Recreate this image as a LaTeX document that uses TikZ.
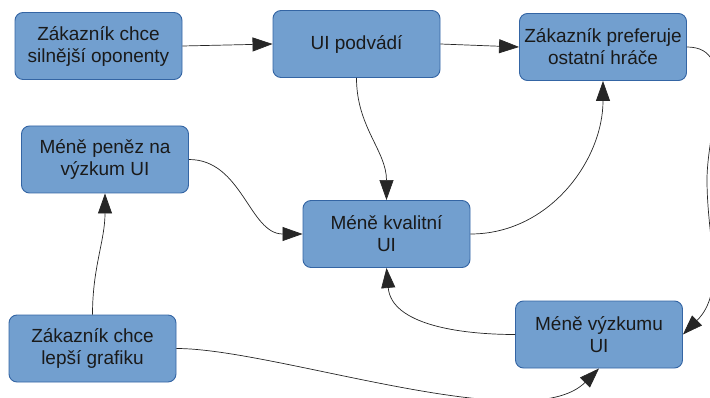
\documentclass[tikz,border=0pt]{standalone}
\usepackage{fontspec}
\setmainfont{Liberation Sans}
\usetikzlibrary{arrows.meta}
\definecolor{boxfill}{HTML}{729FCF}
\definecolor{boxline}{HTML}{3465A4}
\definecolor{txt}{HTML}{1A1A1A}
\begin{document}
\begin{tikzpicture}[x=1pt,y=1pt,
  box/.style={draw=boxline, fill=boxfill, line width=0.9pt, rounded corners=8pt,
    minimum width=167pt, minimum height=67pt, align=center, inner sep=0pt,
    text=txt, font=\fontsize{19}{22}\selectfont},
  conn/.style={draw=black!85, line width=0.7pt, -{Triangle[length=20pt,width=14pt]}}]
\useasboundingbox (0,0) rectangle (710,397);
\node[box] (n1) at (98.5,351) {Zákazník chce\\silnější oponenty};
\node[box] (n2) at (356.5,353) {UI podvádí};
\node[box] (n3) at (603,350) {Zákazník preferuje\\ostatní hráče};
\node[box] (n4) at (105,237.5) {Méně peněz na\\výzkum UI};
\node[box] (n5) at (386.5,163) {Méně kvalitní\\UI};
\node[box] (n6) at (599,62.5) {Méně výzkumu\\UI};
\node[box] (n7) at (92.5,48.5) {Zákazník chce\\lepší grafiku};
\coordinate (w1) at (707,217);
\draw[conn] (n1.east) -- (n2.west);
\draw[conn] (n2.east) -- (n3.west);
\draw[conn] (n2.south) to[out=-90,in=90] (n5.north);
\draw[conn] (n5.east) to[out=0,in=-90] (n3.south);
\draw[conn] (n3.east) to[out=0,in=90] (w1) to[out=-90,in=45] (n6.east);
\draw[conn] (n6.west) to[out=180,in=-85] (n5.south);
\draw[conn] (n7.east) to[out=0,in=-135,looseness=0.6] (n6.south);
\draw[conn] (n7.north) to[out=90,in=-90] (n4.south);
\draw[conn] (n4.east) to[out=0,in=180] (n5.west);
\end{tikzpicture}
\end{document}
